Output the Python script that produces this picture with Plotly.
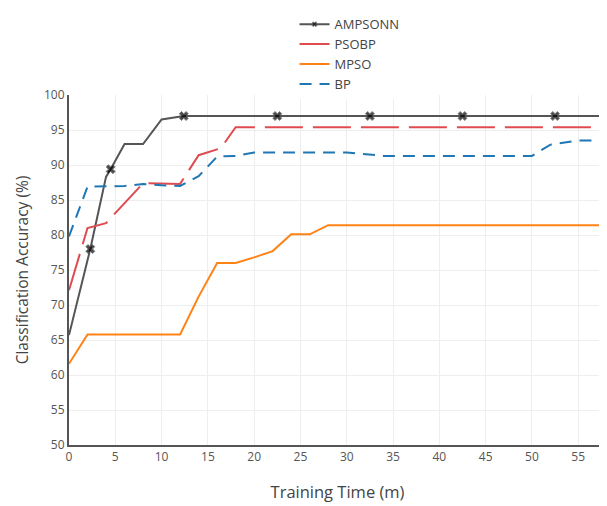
import plotly.graph_objects as go

# AMPSONN
amp_x = [0, 2.3, 4.0, 4.5, 6, 8, 10, 12.4, 22.5, 32.5, 42.5, 52.5, 58]
amp_y = [65.7, 78.0, 88.3, 89.4, 93.0, 93.0, 96.5, 97.0, 97.0, 97.0, 97.0, 97.0, 97.0]
amp_marked = [False, True, False, True, False, False, False, True, True, True, True, True, False]

# PSOBP
pso_x = [0, 2, 4, 8, 12, 14, 16.4, 18, 58]
pso_y = [72.1, 81.0, 81.7, 87.4, 87.3, 91.4, 92.4, 95.4, 95.4]

# MPSO
mpso_x = [0, 2, 12, 14, 16, 18, 20, 22, 24, 26, 28, 58]
mpso_y = [61.6, 65.8, 65.8, 71.2, 76.0, 76.0, 76.8, 77.7, 80.1, 80.1, 81.4, 81.4]

# BP
bp_x = [0, 2, 6, 8, 10, 12, 14, 16, 18, 20, 30, 34, 50, 52, 55, 58]
bp_y = [79.8, 86.9, 87.0, 87.3, 87.1, 87.0, 88.4, 91.2, 91.3, 91.8, 91.8, 91.3, 91.3, 92.9, 93.5, 93.5]

fig = go.Figure()
fig.add_trace(go.Scatter(
    x=amp_x, y=amp_y, name="AMPSONN", mode="lines+markers",
    line=dict(color="#555555", width=2),
    marker=dict(symbol="x", color="black",
                size=[8 if m else 0 for m in amp_marked]),
))
fig.add_trace(go.Scatter(
    x=pso_x, y=pso_y, name="PSOBP", mode="lines",
    line=dict(color="#df4b4f", width=2, dash="38px,10px"),
))
fig.add_trace(go.Scatter(
    x=mpso_x, y=mpso_y, name="MPSO", mode="lines",
    line=dict(color="#ff8215", width=2),
))
fig.add_trace(go.Scatter(
    x=bp_x, y=bp_y, name="BP", mode="lines",
    line=dict(color="#1f77b4", width=2, dash="12px,8px"),
))

fig.update_layout(
    width=599, height=498,
    margin=dict(l=61, r=1, t=87, b=61),
    paper_bgcolor="white", plot_bgcolor="white",
    font=dict(family="Open Sans", color="#444", size=12),
    showlegend=True,
    legend=dict(x=0.42, y=1.245, xanchor="left", yanchor="top",
                font=dict(size=13, color="#444"), tracegroupgap=0),
)
fig.update_xaxes(
    range=[0, 58], dtick=5, tick0=0,
    showgrid=True, gridcolor="#eeeeee", zeroline=False,
    showline=True, linecolor="#555", linewidth=2,
    ticks="", tickfont=dict(size=12, color="#555"),
    title=dict(text="Training Time (m)", font=dict(size=16.5, color="#444"), standoff=22),
)
fig.update_yaxes(
    range=[50, 100], dtick=5, tick0=50,
    showgrid=True, gridcolor="#eeeeee", zeroline=False,
    showline=True, linecolor="#555", linewidth=2,
    ticks="", tickfont=dict(size=12, color="#555"),
    title=dict(text="Classification Accuracy (%)", font=dict(size=15.5, color="#444"), standoff=12),
)

fig.write_html("out.html")
